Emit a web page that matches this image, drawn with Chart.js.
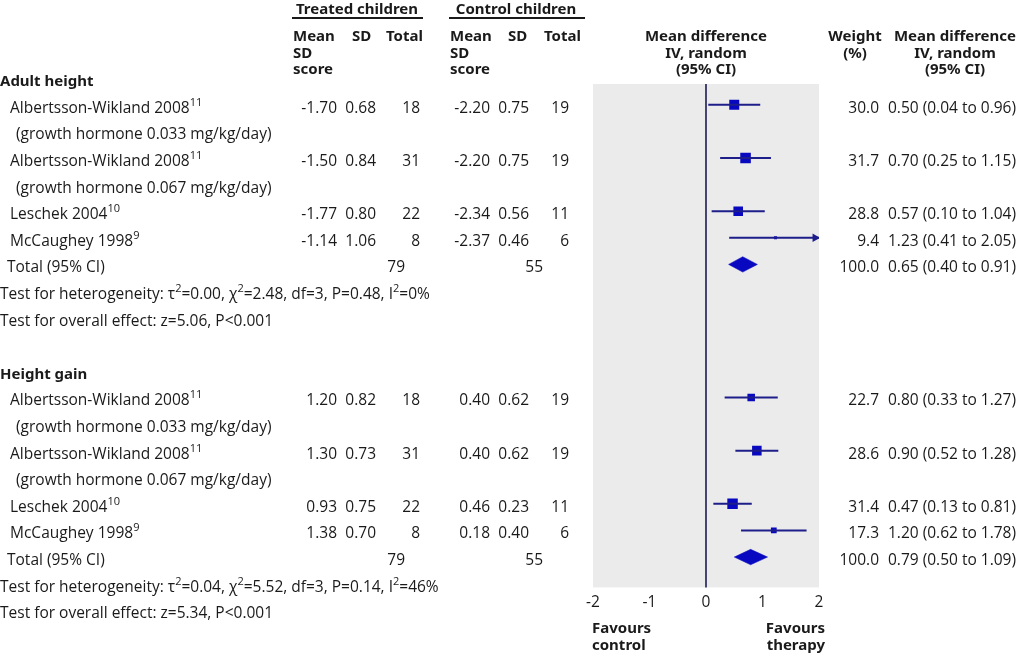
<!DOCTYPE html>
<html>
<head>
<meta charset="utf-8">
<script src="https://cdn.jsdelivr.net/npm/chart.js@4.4.0/dist/chart.umd.min.js"></script>
<style>
  body { margin: 0; background: #fff; }
  #wrap { position: relative; width: 1024px; height: 654px; font-family: "Open Sans", sans-serif; font-size: 15.5px; color: #1a1a1a; overflow: hidden; }
  #wrap canvas { position: absolute; left: 0; top: 0; }
  .t { position: absolute; white-space: nowrap; line-height: 20px; }
  .b { font-weight: bold; font-family: "Liberation Sans Narrow", "Noto Sans", sans-serif; font-size: 15px; }
  .c { text-align: center; width: 200px; }
  sup { font-size: 11px; line-height: 0; vertical-align: 7px; }
  .rule { position: absolute; height: 2px; background: #1a1a1a; }
</style>
</head>
<body>
<div id="wrap">
  <canvas id="forest" width="1024" height="654"></canvas>
</div>
<script>
// ---- data ----
const groups = ['Adult height', 'Height gain'];
const studies = ['Albertsson-Wikland 2008', 'Albertsson-Wikland 2008', 'Leschek 2004', 'McCaughey 1998'];
const refs = ['11', '11', '10', '9'];
const doses = ['(growth hormone 0.033 mg/kg/day)', '(growth hormone 0.067 mg/kg/day)', null, null];

// adult height
const adultTreatMean = [-1.70, -1.50, -1.77, -1.14];
const adultTreatSD = [0.68, 0.84, 0.80, 1.06];
const adultTreatN = [18, 31, 22, 8];
const adultCtrlMean = [-2.20, -2.20, -2.34, -2.37];
const adultCtrlSD = [0.75, 0.75, 0.56, 0.46];
const adultCtrlN = [19, 19, 11, 6];
const adultWeight = [30.0, 31.7, 28.8, 9.4];
const adultMD = [0.50, 0.70, 0.57, 1.23];
const adultLo = [0.04, 0.25, 0.10, 0.41];
const adultHi = [0.96, 1.15, 1.04, 2.05];
const adultTotal = { treatN: 79, ctrlN: 55, weight: 100.0, md: 0.65, lo: 0.40, hi: 0.91 };
const adultHet = 'Test for heterogeneity: τ<sup>2</sup>=0.00, χ<sup>2</sup>=2.48, df=3, P=0.48, I<sup>2</sup>=0%';
const adultOverall = 'Test for overall effect: z=5.06, P&lt;0.001';

// height gain
const gainTreatMean = [1.20, 1.30, 0.93, 1.38];
const gainTreatSD = [0.82, 0.73, 0.75, 0.70];
const gainTreatN = [18, 31, 22, 8];
const gainCtrlMean = [0.40, 0.40, 0.46, 0.18];
const gainCtrlSD = [0.62, 0.62, 0.23, 0.40];
const gainCtrlN = [19, 19, 11, 6];
const gainWeight = [22.7, 28.6, 31.4, 17.3];
const gainMD = [0.80, 0.90, 0.47, 1.20];
const gainLo = [0.33, 0.52, 0.13, 0.62];
const gainHi = [1.27, 1.28, 0.81, 1.78];
const gainTotal = { treatN: 79, ctrlN: 55, weight: 100.0, md: 0.79, lo: 0.50, hi: 1.09 };
const gainHet = 'Test for heterogeneity: τ<sup>2</sup>=0.04, χ<sup>2</sup>=5.52, df=3, P=0.14, I<sup>2</sup>=46%';
const gainOverall = 'Test for overall effect: z=5.34, P&lt;0.001';

// rows on the y axis (0 = first group heading)
const headRows = [0, 11];
const studyRows = [[1, 3, 5, 6], [12, 14, 16, 17]];
const totalRows = [7, 18];
const xTicks = [-2, -1, 0, 1, 2];

const sections = [
  { name: groups[0], tm: adultTreatMean, ts: adultTreatSD, tn: adultTreatN, cm: adultCtrlMean, cs: adultCtrlSD, cn: adultCtrlN,
    w: adultWeight, md: adultMD, lo: adultLo, hi: adultHi, total: adultTotal, het: adultHet, overall: adultOverall },
  { name: groups[1], tm: gainTreatMean, ts: gainTreatSD, tn: gainTreatN, cm: gainCtrlMean, cs: gainCtrlSD, cn: gainCtrlN,
    w: gainWeight, md: gainMD, lo: gainLo, hi: gainHi, total: gainTotal, het: gainHet, overall: gainOverall }
];

const X_MIN = xTicks[0], X_MAX = xTicks[xTicks.length - 1];
const LINE = '#1e1e8a', MARK = '#0808c0';

// ---- datasets ----
const datasets = [];
// line of no effect
datasets.push({
  type: 'line', data: [{ x: 0, y: -1 }, { x: 0, y: 30 }],
  borderColor: '#1c1c55', borderWidth: 1.6, pointRadius: 0, clip: true
});
const squares = [], sqRadius = [], arrows = [];
sections.forEach((s, g) => {
  s.md.forEach((m, i) => {
    const row = studyRows[g][i];
    datasets.push({
      type: 'line', data: [{ x: s.lo[i], y: row }, { x: Math.min(s.hi[i], X_MAX), y: row }],
      borderColor: LINE, borderWidth: 2, pointRadius: 0
    });
    squares.push({ x: m, y: row });
    sqRadius.push(s.w[i] / 3 / Math.SQRT2);
    if (s.hi[i] > X_MAX) arrows.push({ x: X_MAX - 0.07, y: row });
  });
  const t = s.total, r = totalRows[g];
  datasets.push({
    type: 'line',
    data: [{ x: t.lo, y: r }, { x: t.md, y: r - 0.29 }, { x: t.hi, y: r }, { x: t.md, y: r + 0.29 }, { x: t.lo, y: r }],
    borderColor: MARK, borderWidth: 0.5, backgroundColor: MARK, fill: 'shape', pointRadius: 0, tension: 0
  });
});
datasets.push({
  type: 'scatter', data: squares, pointStyle: 'rect', pointRadius: sqRadius,
  backgroundColor: MARK, borderColor: MARK, borderWidth: 0
});
datasets.push({
  type: 'scatter', data: arrows, pointStyle: 'triangle', rotation: 90, pointRadius: 5,
  backgroundColor: LINE, borderColor: LINE, borderWidth: 0
});

const bgPlugin = {
  id: 'panel',
  beforeDatasetsDraw(chart) {
    const a = chart.chartArea, ctx = chart.ctx;
    ctx.save();
    ctx.fillStyle = '#ebebeb';
    ctx.fillRect(a.left, a.top, a.right - a.left, a.bottom - a.top);
    ctx.restore();
  }
};

const chart = new Chart(document.getElementById('forest'), {
  type: 'scatter',
  data: { datasets },
  options: {
    responsive: false,
    animation: false,
    layout: { padding: { left: 593, right: 205, top: 84, bottom: 36 } },
    plugins: { legend: { display: false }, tooltip: { enabled: false } },
    scales: {
      x: {
        type: 'linear', min: X_MIN, max: X_MAX,
        afterBuildTicks: ax => { ax.ticks = xTicks.map(v => ({ value: v })); },
        grid: { display: false, drawTicks: false }, border: { display: false },
        ticks: { color: '#1a1a1a', font: { family: 'Open Sans', size: 15.5 }, padding: 6 }
      },
      y: { type: 'linear', reverse: true, min: 0.22, max: 19.14, display: false }
    }
  },
  plugins: [bgPlugin]
});

// ---- table text ----
const wrap = document.getElementById('wrap');
function put(html, x, yc, cls, align) {
  const d = document.createElement('div');
  d.className = 't ' + (cls || '');
  d.innerHTML = html;
  d.style.top = (yc - 10) + 'px';
  if (align === 'r') { d.style.right = (1024 - x) + 'px'; d.style.textAlign = 'right'; }
  else if (align === 'c') { d.classList.add('c'); d.style.left = (x - 100) + 'px'; }
  else d.style.left = x + 'px';
  wrap.appendChild(d);
}
function rule(x1, x2, y) {
  const d = document.createElement('div');
  d.className = 'rule';
  d.style.left = x1 + 'px'; d.style.width = (x2 - x1) + 'px'; d.style.top = y + 'px';
  wrap.appendChild(d);
}

// headers
put('Treated children', 357, 8, 'b', 'c');
put('Control children', 516, 8, 'b', 'c');
rule(292, 423, 17);
rule(449, 585, 17);
['Mean', 'SD', 'score'].forEach((l, k) => {
  put(l, 293, 35 + k * 16.5, 'b');
  put(l, 450, 35 + k * 16.5, 'b');
});
put('SD', 352, 35, 'b'); put('Total', 386, 35, 'b');
put('SD', 508, 35, 'b'); put('Total', 544, 35, 'b');
['Mean difference', 'IV, random', '(95% CI)'].forEach((l, k) => {
  put(l, 706, 35 + k * 16.5, 'b', 'c');
  put(l, 955, 35 + k * 16.5, 'b', 'c');
});
put('Weight', 855, 35, 'b', 'c'); put('(%)', 855, 51.5, 'b', 'c');
put('Favours', 592, 627, 'b'); put('control', 592, 644, 'b');
put('Favours', 825, 627, 'b', 'r'); put('therapy', 825, 644, 'b', 'r');

// row text sits on the same y scale as the marks
const Y = v => chart.scales.y.getPixelForValue(v) + 2;
sections.forEach((s, g) => {
  put(s.name, 0, Y(headRows[g]), 'b');
  studies.forEach((name, i) => {
    const yc = Y(studyRows[g][i]);
    put(name + '<sup>' + refs[i] + '</sup>', 10, yc);
    if (doses[i]) put(doses[i], 16, Y(studyRows[g][i] + 1));
    put(s.tm[i].toFixed(2), 337, yc, '', 'r');
    put(s.ts[i].toFixed(2), 376, yc, '', 'r');
    put(String(s.tn[i]), 420, yc, '', 'r');
    put(s.cm[i].toFixed(2), 490, yc, '', 'r');
    put(s.cs[i].toFixed(2), 529, yc, '', 'r');
    put(String(s.cn[i]), 569, yc, '', 'r');
    put(s.w[i].toFixed(1), 879, yc, '', 'r');
    put(s.md[i].toFixed(2) + ' (' + s.lo[i].toFixed(2) + ' to ' + s.hi[i].toFixed(2) + ')', 888, yc);
  });
  const t = s.total, yt = Y(totalRows[g]);
  put('Total (95% CI)', 7, yt);
  put(String(t.treatN), 405, yt, '', 'r');
  put(String(t.ctrlN), 543, yt, '', 'r');
  put(t.weight.toFixed(1), 879, yt, '', 'r');
  put(t.md.toFixed(2) + ' (' + t.lo.toFixed(2) + ' to ' + t.hi.toFixed(2) + ')', 888, yt);
  put(s.het, 0, Y(totalRows[g] + 1));
  put(s.overall, 0, Y(totalRows[g] + 2));
});
</script>
</body>
</html>
